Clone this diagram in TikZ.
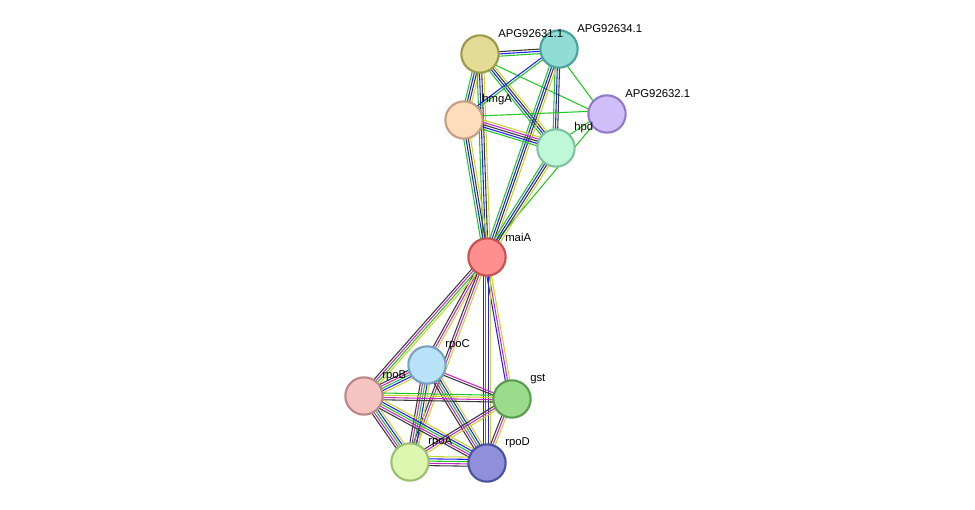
\documentclass[tikz,border=0pt]{standalone}
\usepackage{fontspec}
\setmainfont{Liberation Sans}
\usetikzlibrary{calc,positioning}
\definecolor{egreen}{HTML}{22C822}
\definecolor{eblue}{HTML}{2020F0}
\definecolor{eblack}{HTML}{383838}
\definecolor{eyellow}{HTML}{C8D42A}
\definecolor{emag}{HTML}{C828C8}
% protein fill / border colours
\definecolor{f31}{HTML}{E3DB96}\definecolor{b31}{HTML}{9A9A4A}
\definecolor{f34}{HTML}{8FDDD4}\definecolor{b34}{HTML}{4AA39A}
\definecolor{f32}{HTML}{D0BEFA}\definecolor{b32}{HTML}{9479C8}
\definecolor{fhmgA}{HTML}{FDDDBB}\definecolor{bhmgA}{HTML}{C49E7E}
\definecolor{fhpd}{HTML}{BFF7D9}\definecolor{bhpd}{HTML}{7FC29E}
\definecolor{fmaiA}{HTML}{FF8F8F}\definecolor{bmaiA}{HTML}{C95050}
\definecolor{frpoC}{HTML}{B8E2F8}\definecolor{brpoC}{HTML}{7AA2C0}
\definecolor{frpoB}{HTML}{F7C4C4}\definecolor{brpoB}{HTML}{B98888}
\definecolor{fgst}{HTML}{9BDC8C}\definecolor{bgst}{HTML}{5A9C50}
\definecolor{frpoA}{HTML}{DDF7B0}\definecolor{brpoA}{HTML}{9AC070}
\definecolor{frpoD}{HTML}{8F8FDA}\definecolor{brpoD}{HTML}{4A52A0}
\tikzset{
  prot/.style={circle, draw=b#1, fill=f#1, line width=1.6pt, minimum size=28pt, inner sep=0pt},
  lbl/.style={anchor=west, inner sep=0pt, font=\fontsize{8.5}{10}\selectfont},
  edg/.style={line width=0.8pt}
}
\begin{document}
\begin{tikzpicture}[x=0.75pt,y=-0.75pt]
	\useasboundingbox (0,0) rectangle (975,510);
	% proteins
	\coordinate (p31) at (480,54);
	\coordinate (p34) at (559,49);
	\coordinate (p32) at (607,114);
	\coordinate (phmgA) at (464,120);
	\coordinate (phpd) at (556,148);
	\coordinate (pmaiA) at (487,257);
	\coordinate (prpoC) at (427,365);
	\coordinate (prpoB) at (364,396);
	\coordinate (pgst) at (512,399);
	\coordinate (prpoA) at (410,462);
	\coordinate (prpoD) at (487,463);
	
	% draw edges
	\foreach \a/\b/\cl in {
		31/34/{egreen,eblue,eblack}, 31/32/{egreen}, 31/hmgA/{egreen,eblue,eblack,eyellow},
		31/hpd/{egreen,eblue,eblack,eyellow}, 31/maiA/{egreen,eblue,eblack,eyellow},
		34/32/{egreen}, 34/hmgA/{eblue,egreen}, 34/hpd/{egreen,eblue,eblack},
		34/maiA/{egreen,eblue,eblack,eyellow}, 32/hmgA/{egreen}, 32/hpd/{egreen}, 32/maiA/{egreen},
		hmgA/hpd/{egreen,eblue,eblack,emag,eyellow}, hmgA/maiA/{egreen,eblue,eblack,eyellow},
		hpd/maiA/{egreen,eblue,eblack,eyellow},
		maiA/rpoC/{eblack,emag,eyellow}, maiA/rpoB/{eblack,emag,egreen,eyellow},
		maiA/gst/{eblue,emag,eyellow}, maiA/rpoA/{eblack,emag,eyellow}, maiA/rpoD/{eblack,emag,eblue,eyellow},
		rpoC/rpoB/{eblack,emag,egreen,eblue,eyellow}, rpoC/gst/{eblack,emag},
		rpoC/rpoA/{eblack,emag,egreen,eblue,eyellow}, rpoC/rpoD/{eblack,emag,egreen,eblue,eyellow},
		rpoB/gst/{eblack,emag,eyellow,egreen}, rpoB/rpoA/{eblack,emag,egreen,eblue,eyellow},
		rpoB/rpoD/{eblack,emag,egreen,eblue,eyellow}, gst/rpoA/{eblack,emag,eyellow},
		gst/rpoD/{eblack,emag,eyellow}, rpoA/rpoD/{eblack,emag,egreen,eblue,eyellow}}
	{
		\foreach \c [count=\i] in \cl
		\draw[edg,\c] ($(p\a)!{(\i-2.5)*1.7pt}!90:(p\b)$) -- ($(p\b)!{(\i-2.5)*1.7pt}!-90:(p\a)$);
	}
	
	% draw nodes
	\foreach \n in {31,34,32,hmgA,hpd,maiA,rpoC,rpoB,gst,rpoA,rpoD}
	\node[prot=\n] (n\n) at (p\n) {};
	
	% labels
	\foreach \n/\t in {31/APG92631.1, 34/APG92634.1, 32/APG92632.1, hmgA/hmgA, hpd/hpd,
		maiA/maiA, rpoC/rpoC, rpoB/rpoB, gst/gst, rpoA/rpoA, rpoD/rpoD}
	\node[lbl] (l\n) at ($(p\n)+(18,-20)$) {\t};
\end{tikzpicture}
\end{document}
